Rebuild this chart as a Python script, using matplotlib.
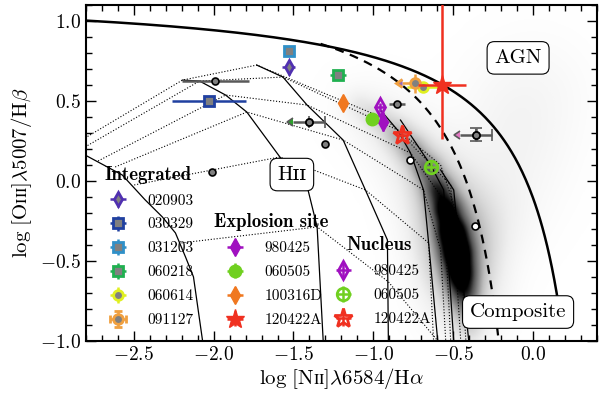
import numpy as np
import matplotlib
matplotlib.use('Agg')
import matplotlib.pyplot as plt
from matplotlib.ticker import MultipleLocator

plt.rcParams['font.family'] = ['cmr10', 'DejaVu Serif']
plt.rcParams['mathtext.fontset'] = 'cm'
plt.rcParams['mathtext.fallback'] = 'stix'
plt.rcParams['axes.formatter.use_mathtext'] = True

# demarcation lines: a / (x - b) + c
KEWLEY = (0.61, 0.47, 1.19)
KAUFFMANN = (0.61, 0.05, 1.30)

# SDSS galaxy density: ridge of the star-forming sequence (x, y, weight)
ridge_x = [-1.10, -0.98, -0.86, -0.76, -0.67, -0.60, -0.55, -0.51, -0.48, -0.46, -0.44, -0.42, -0.40]
ridge_y = [0.48, 0.40, 0.30, 0.20, 0.08, -0.05, -0.18, -0.32, -0.45, -0.58, -0.70, -0.82, -0.95]
ridge_w = [0.12, 0.2, 0.28, 0.36, 0.45, 0.58, 0.75, 0.95, 1.0, 0.85, 0.55, 0.28, 0.14]
# broad AGN / composite wing (x, y, sigma, weight)
wing_x = [-0.30, -0.15, -0.10, 0.05]
wing_y = [-0.25, 0.10, 0.45, 0.60]
wing_s = [0.20, 0.25, 0.25, 0.25]
wing_w = [0.12, 0.08, 0.06, 0.04]

# photoionisation model grid
grid_solid = [
    ([-2.805, -2.572, -2.428, -2.321, -2.239, -2.176, -2.126, -2.094, -2.069],
     [0.1625, 0.0375, -0.119, -0.225, -0.325, -0.475, -0.60, -0.825, -1.0]),
    ([-2.195, -2.088, -1.925, -1.792, -1.585, -1.409, -1.352, -1.314],
     [0.631, 0.625, 0.5375, 0.431, 0.15, -0.056, -0.2875, -1.0]),
    ([-1.730, -1.566, -1.415, -1.189, -1.050, -0.912, -0.906],
     [0.725, 0.65, 0.475, 0.256, -0.056, -0.369, -1.0]),
    ([-0.956, -0.849, -0.767, -0.686, -0.654, -0.597],
     [0.444, 0.319, 0.175, -0.056, -0.3875, -1.0]),
    ([-0.830, -0.642, -0.560, -0.497],
     [0.381, 0.10, -0.056, -1.0]),
    ([-0.579, -0.497, -0.403],
     [0.069, -0.056, -1.0]),
]
grid_dotted = [
    ([-2.805, -2.195, -1.730, -0.937, -0.579, -0.465, -0.421],
     [0.269, 0.631, 0.725, 0.394, 0.10, -0.244, -1.0]),
    ([-2.805, -2.088, -1.566, -0.849, -0.516, -0.453],
     [0.2125, 0.625, 0.65, 0.319, -0.025, -1.0]),
    ([-2.723, -1.925, -1.415, -0.767, -0.560, -0.516],
     [0.125, 0.5375, 0.475, 0.175, -0.119, -1.0]),
    ([-2.616, -1.792, -1.189, -0.686, -0.579, -0.547],
     [0.0875, 0.431, 0.256, -0.056, -0.431, -1.0]),
    ([-2.497, -1.585, -1.050, -0.654, -0.623],
     [-0.025, 0.15, -0.056, -0.3875, -1.0]),
    ([-2.201, -1.352, -0.906, -0.597],
     [-0.3875, -0.2875, -0.631, -1.0]),
]

# integrated host spectra
int_names = ['020903', '030329', '031203', '060218', '060614', '091127']
int_x = [-1.53, -2.03, -1.53, -1.22, -0.69, -0.74]
int_y = [0.71, 0.50, 0.81, 0.66, 0.59, 0.61]
int_xerr = [0.04, 0.23, 0.01, 0.05, 0.10, 0.08]
int_yerr = [0.045, 0.02, 0.01, 0.02, 0.02, 0.06]
int_xlim = [False, False, False, False, False, True]
int_markers = ['d', 's', 's', 's', 'o', 'o']
int_colors = ['#5030b0', '#2040a0', '#3090c8', '#20b050', '#e0f020', '#f0a040']

# explosion sites
exp_names = ['980425', '060505', '100316D', '120422A']
exp_x = [-0.94, -1.01, -1.19, -0.57]
exp_y = [0.37, 0.39, 0.49, 0.60]
exp_xerr = [0.03, 0.0, 0.0, 0.15]
exp_yerr_lo = [0.06, 0.0, 0.0, 0.34]
exp_yerr_hi = [0.06, 0.0, 0.0, 0.60]
exp_markers = ['d', 'o', 'd', '*']
exp_colors = ['#a010c0', '#70d020', '#f07820', '#f03020']

# nuclei
nuc_names = ['980425', '060505', '120422A']
nuc_x = [-0.96, -0.64, -0.82]
nuc_y = [0.46, 0.09, 0.29]
nuc_markers = ['d', 'o', '*']
nuc_colors = ['#a010c0', '#70d020', '#f03020']

# other GRB hosts
oth_x = [-1.99, -2.01, -1.40, -1.30, -0.85, -0.36]
oth_y = [0.625, 0.056, 0.37, 0.23, 0.48, 0.29]
oth_xerr = [0.21, 0.0, 0.10, 0.0, 0.05, 0.10]
oth_yerr = [0.0, 0.0, 0.0, 0.0, 0.0, 0.04]
oth_xlim = [False, False, True, False, False, True]
open_x = [-0.77, -0.365]
open_y = [0.13, -0.28]

fig = plt.figure(figsize=(6.0, 3.94), dpi=100)
ax = fig.add_axes([0.143, 0.135, 0.852, 0.852])
ax.set_xlim(-2.8, 0.4)
ax.set_ylim(-1.0, 1.1)

# density background
gx, gy = np.meshgrid(np.linspace(-2.8, 0.4, 480), np.linspace(-1.0, 1.1, 320))
dens = np.zeros_like(gx)
for x0, y0, w in zip(ridge_x, ridge_y, ridge_w):
    r2 = (gx - x0) ** 2 + (gy - y0) ** 2
    dens += w * (np.exp(-r2 / (2 * 0.065 ** 2)) + 0.25 * np.exp(-r2 / (2 * 0.16 ** 2)))
for x0, y0, s, w in zip(wing_x, wing_y, wing_s, wing_w):
    dens += w * np.exp(-((gx - x0) ** 2 + (gy - y0) ** 2) / (2 * s ** 2))
ax.imshow(dens, extent=(-2.8, 0.4, -1.0, 1.1), origin='lower', cmap='Greys',
          vmin=0, vmax=1.25, aspect='auto', zorder=0, interpolation='bilinear')

for xs, ys in grid_solid:
    ax.plot(xs, ys, color='k', lw=0.9, zorder=1)
for xs, ys in grid_dotted:
    ax.plot(xs, ys, color='k', lw=0.8, ls=':', zorder=1)

a, b, c = KEWLEY
xk = np.linspace(-2.8, b - 0.3, 400)
yk = a / (xk - b) + c
ax.plot(xk[yk > -1.05], yk[yk > -1.05], color='k', lw=1.8, zorder=2)
a2, b2, c2 = KAUFFMANN
xf = np.linspace(-1.33, b2 - 0.25, 300)
yf = a2 / (xf - b2) + c2
ax.plot(xf[yf > -1.05], yf[yf > -1.05], color='k', lw=1.6, ls=(0, (4, 3)), zorder=2)

# other hosts
ekw = dict(fmt='o', ms=5, mfc='0.5', mec='k', mew=1.2, ecolor='0.35',
           elinewidth=1.8, capthick=1.5, zorder=3)
for x, y, xe, ye, lim in zip(oth_x, oth_y, oth_xerr, oth_yerr, oth_xlim):
    if lim:
        ax.errorbar(x, y, xerr=[[xe], [0]], xuplims=True, capsize=0, **ekw)
        ax.errorbar(x, y, xerr=[[0], [xe]], yerr=ye if ye else None, capsize=4, **ekw)
    else:
        ax.errorbar(x, y, xerr=xe if xe else None, yerr=ye if ye else None,
                    capsize=0, **ekw)
ax.plot(open_x, open_y, 'o', ms=5, mfc='white', mec='k', mew=1.2, zorder=3)

h_int, h_exp, h_nuc = [], [], []
for n, x, y, xe, ye, lim, m, col in zip(int_names, int_x, int_y, int_xerr, int_yerr,
                                         int_xlim, int_markers, int_colors):
    h = ax.errorbar(x, y, xerr=xe, yerr=ye, xuplims=lim, fmt=m, ms=7, mfc='0.5',
                    mec=col, mew=2, ecolor=col, elinewidth=1.8, capsize=0,
                    label=n, zorder=4)
    h_int.append(h)
for n, x, y, xe, lo, hi, m, col in zip(exp_names, exp_x, exp_y, exp_xerr, exp_yerr_lo,
                                        exp_yerr_hi, exp_markers, exp_colors):
    ms = 14 if m == '*' else 9
    h = ax.errorbar(x, y, xerr=xe, yerr=[[lo], [hi]], fmt=m, ms=ms, mfc=col,
                    mec=col, mew=1, ecolor=col, elinewidth=1.8, capsize=0,
                    label=n, zorder=5)
    h_exp.append(h)
for n, x, y, m, col in zip(nuc_names, nuc_x, nuc_y, nuc_markers, nuc_colors):
    ms = 14 if m == '*' else 9
    h = ax.errorbar(x, y, xerr=0.03, yerr=0.03, fmt=m, ms=ms, mfc='none',
                    mec=col, mew=2, ecolor=col, elinewidth=1.8, capsize=0,
                    label=n, zorder=5)
    h_nuc.append(h)

box = dict(boxstyle='round,pad=0.35', fc='white', ec='k', lw=0.8)
ax.text(-0.094, 0.77, 'AGN', fontsize=15, ha='center', va='center', bbox=box, zorder=6)
ax.text(-1.51, 0.04, 'Hɪɪ', fontsize=15, ha='center', va='center', bbox=box, zorder=6)
ax.text(-0.094, -0.82, 'Composite', fontsize=15, ha='center', va='center', bbox=box, zorder=6)

leg_kw = dict(frameon=False, fontsize=11, numpoints=1, handlelength=2.0,
              handletextpad=0.95, labelspacing=0.67, borderaxespad=0, borderpad=0,
              alignment='center', title_fontproperties={'family': 'cmb10', 'size': 13.5})
leg1 = ax.legend(handles=h_int, title='Integrated', loc='upper left',
                 bbox_to_anchor=(0.033, 0.522), **leg_kw)
ax.add_artist(leg1)
leg2 = ax.legend(handles=h_exp, title='Explosion site', loc='upper left',
                 bbox_to_anchor=(0.251, 0.38), **leg_kw)
ax.add_artist(leg2)
ax.legend(handles=h_nuc, title='Nucleus', loc='upper left',
          bbox_to_anchor=(0.474, 0.311), **leg_kw)

ax.set_xlabel(r'$\log\,[\mathrm{N}\mathrm{ɪɪ}]\lambda6584/\mathrm{H}\alpha$', fontsize=15, labelpad=2)
ax.set_ylabel(r'$\log\,[\mathrm{O}\mathrm{ɪɪɪ}]\lambda5007/\mathrm{H}\beta$', fontsize=15, labelpad=4)
ax.xaxis.set_major_locator(MultipleLocator(0.5))
ax.xaxis.set_minor_locator(MultipleLocator(0.1))
ax.yaxis.set_major_locator(MultipleLocator(0.5))
ax.yaxis.set_minor_locator(MultipleLocator(0.1))
ax.tick_params(which='both', direction='in', top=True, right=True, labelsize=14, width=1)
ax.tick_params(which='major', length=7)
ax.tick_params(which='minor', length=4)
for sp in ax.spines.values():
    sp.set_linewidth(1.5)

fig.savefig('out.png', dpi=100)
